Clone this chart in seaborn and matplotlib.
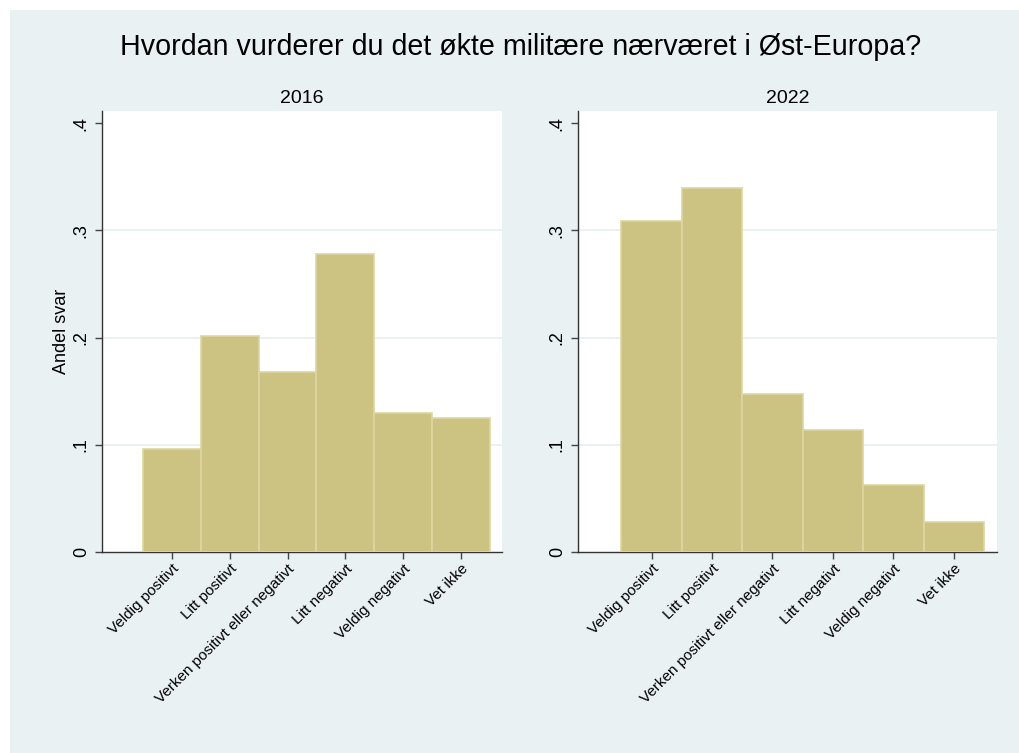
import numpy as np
import pandas as pd
import matplotlib.pyplot as plt
import matplotlib.ticker as mticker
from matplotlib.patches import Rectangle
import seaborn as sns

sns.set_theme(style="white")
plt.rcParams['font.family'] = ['Liberation Sans', 'DejaVu Sans']
plt.rcParams['text.color'] = 'black'
plt.rcParams['axes.labelcolor'] = 'black'
plt.rcParams['xtick.color'] = 'black'
plt.rcParams['ytick.color'] = 'black'

# data
categories = ["Veldig positivt", "Litt positivt", "Verken positivt eller negativt",
              "Litt negativt", "Veldig negativt", "Vet ikke"]
share_2016 = [0.0956, 0.2017, 0.1678, 0.2783, 0.1292, 0.1246]
share_2022 = [0.3090, 0.3393, 0.1470, 0.1134, 0.0620, 0.0274]
years = ["2016", "2022"]
y_ticks = [0, 0.1, 0.2, 0.3, 0.4]

BG = "#EAF1F3"
BAR = "#CCC383"
BAR_EDGE = "#DDD6A2"

fig = plt.figure(figsize=(10.2, 7.53), dpi=100, facecolor="white")
fig.patches.append(Rectangle((10 / 1020, 0), 1, 1 - 10 / 753, transform=fig.transFigure,
                             facecolor=BG, edgecolor="none", zorder=-10))

ax1 = fig.add_axes([0.1003, 0.2673, 0.3916, 0.5853])
ax2 = fig.add_axes([0.5670, 0.2673, 0.4102, 0.5853])

for ax, year, vals in [(ax1, years[0], share_2016), (ax2, years[1], share_2022)]:
    df = pd.DataFrame({"svar": categories, "andel": vals})
    sns.barplot(data=df, x="svar", y="andel", ax=ax, width=1.0, color=BAR,
                saturation=1, edgecolor=BAR_EDGE, linewidth=1.2, zorder=3)
    ax.set_facecolor("white")
    ax.set_xlim(-1.21, 5.71)
    ax.set_ylim(0, 0.4115)
    ax.set_yticks(y_ticks)
    ax.yaxis.set_major_formatter(mticker.FuncFormatter(
        lambda v, p: "0" if v == 0 else f"{v:.1f}".lstrip("0")))
    for g in [0.1, 0.2, 0.3]:
        ax.axhline(g, color="#E6EFF1", linewidth=1.2, zorder=1)
    ax.tick_params(axis="y", labelrotation=90, labelsize=13, length=5, width=1,
                   color="#444444", left=True, pad=4)
    for lab in ax.get_yticklabels():
        lab.set_va("center")
    ax.tick_params(axis="x", labelsize=11, length=5, width=1, color="#444444",
                   bottom=True, pad=2)
    ax.set_xticks(range(len(categories)))
    ax.set_xticklabels(categories, rotation=45, ha="right", rotation_mode="anchor")
    for s in ["top", "right"]:
        ax.spines[s].set_visible(False)
    for s in ["left", "bottom"]:
        ax.spines[s].set_color("#333333")
        ax.spines[s].set_linewidth(1)
    ax.set_xlabel("")
    ax.set_ylabel("")
    ax.set_title(year, fontsize=14, pad=6)

ax1.set_ylabel("Andel svar", fontsize=13, labelpad=2)
fig.text(0.51, 0.938, "Hvordan vurderer du det økte militære nærværet i Øst-Europa?",
         ha="center", va="center", fontsize=20.6)

fig.savefig("out.png", dpi=100, facecolor=fig.get_facecolor())
